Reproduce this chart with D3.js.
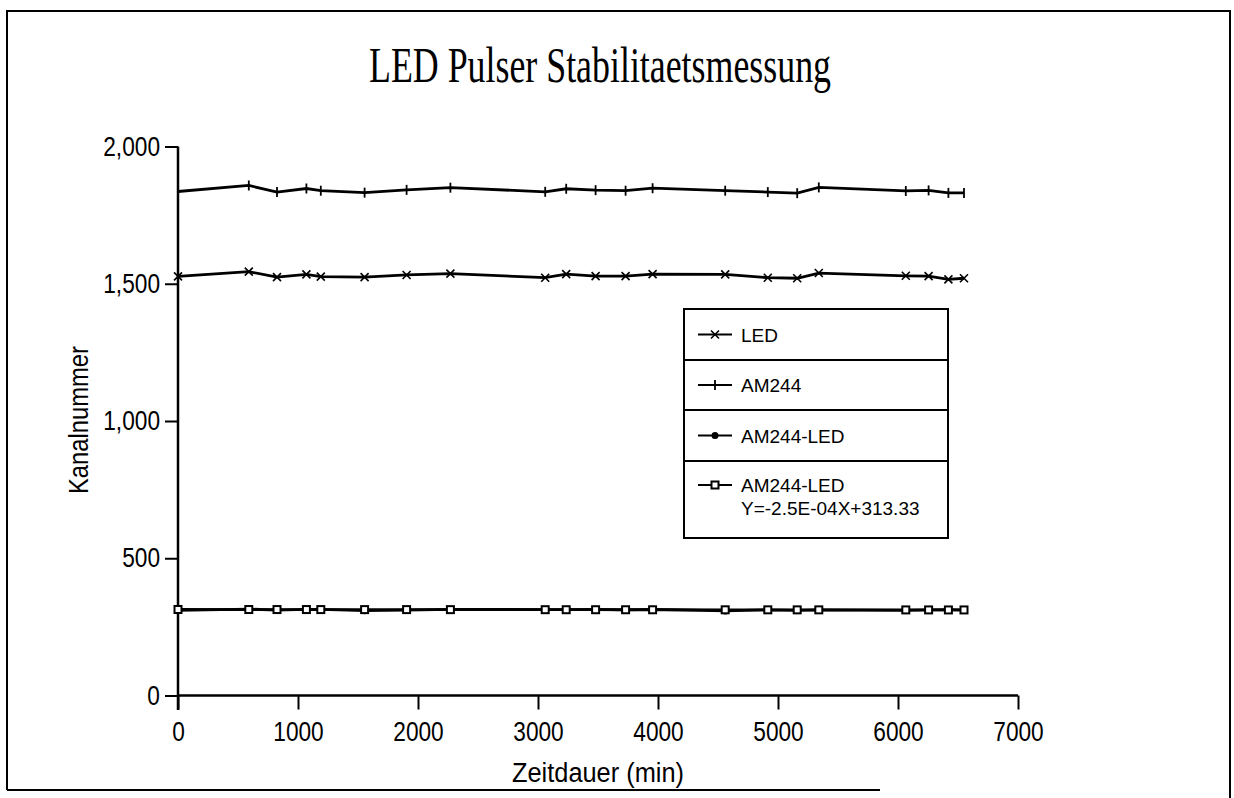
<!DOCTYPE html>
<html>
<head>
<meta charset="utf-8">
<script src="https://cdn.jsdelivr.net/npm/d3@7"></script>
<style>
  body { margin: 0; background: #fff; }
  svg { display: block; }
  .lab { font-family: "Liberation Sans", Arial, sans-serif; }
</style>
</head>
<body>
<script>
// measurement times (min)
var zeit = [0, 590, 825, 1070, 1190, 1555, 1905, 2270, 3060, 3235, 3480, 3730, 3955, 4560, 4915, 5160, 5340, 6065, 6255, 6420, 6550];
// channel numbers
var am244 = [1836, 1858, 1834, 1847, 1839, 1832, 1842, 1850, 1835, 1846, 1841, 1839, 1848, 1839, 1834, 1830, 1851, 1838, 1840, 1831, 1831];
var led = [1527, 1544, 1524, 1534, 1526, 1524, 1532, 1537, 1522, 1535, 1528, 1528, 1535, 1534, 1522, 1520, 1539, 1529, 1528, 1516, 1520];
var diff = [310, 315, 311, 314, 314, 309, 311, 314, 313, 313, 314, 312, 314, 308, 312, 310, 312, 310, 312, 313, 311];
var fit = [313.3, 313.2, 313.1, 313.1, 313.0, 312.9, 312.9, 312.8, 312.6, 312.5, 312.5, 312.4, 312.3, 312.2, 312.1, 312.0, 312.0, 311.8, 311.8, 311.7, 311.7];

var xTicks = [0, 1000, 2000, 3000, 4000, 5000, 6000, 7000];
var yTicks = [0, 500, 1000, 1500, 2000];
var legendNames = ["LED", "AM244", "AM244-LED", "AM244-LED"];
var fitLabel = "Y=-2.5E-04X+313.33";

var W = 1234, H = 798;
var svg = d3.select("body").append("svg").attr("width", W).attr("height", H);

// scanned page frame (bottom edge only partly visible)
svg.append("path")
    .attr("d", "M7,790 L7,11 L1230,11 L1230,798 M7,790 L880,790")
    .attr("fill", "none").attr("stroke", "#000").attr("stroke-width", 2);

var x = d3.scaleLinear().domain([0, 7000]).range([178, 1018]);
var y = d3.scaleLinear().domain([0, 2000]).range([695.5, 146.5]);

// title
svg.append("text")
    .attr("x", 600).attr("y", 82)
    .attr("text-anchor", "middle")
    .attr("textLength", 462).attr("lengthAdjust", "spacingAndGlyphs")
    .style("font-family", "Liberation Serif, serif")
    .style("font-size", "50px")
    .text("LED Pulser Stabilitaetsmessung");

// axes
var yAxis = svg.append("g")
    .attr("transform", "translate(178,0)")
    .call(d3.axisLeft(y).tickValues(yTicks).tickSize(13).tickPadding(5).tickFormat(d3.format(",")));
var xAxis = svg.append("g")
    .attr("transform", "translate(0,695.5)")
    .call(d3.axisBottom(x).tickValues(xTicks).tickSize(14).tickPadding(12).tickFormat(d3.format("d")));

[xAxis, yAxis].forEach(function (a) {
  a.select(".domain").remove();
  a.selectAll("line").attr("stroke", "#000").attr("stroke-width", 2);
  a.selectAll("text").attr("class", "lab").style("font-size", "27px").attr("fill", "#000");
});
xAxis.selectAll("text").attr("dy", "0.71em");

// axis lines
svg.append("line").attr("x1", 178).attr("x2", 178).attr("y1", y(2000)).attr("y2", 710)
    .attr("stroke", "#000").attr("stroke-width", 2.5);
svg.append("line").attr("x1", 178).attr("x2", x(7000)).attr("y1", y(0)).attr("y2", y(0))
    .attr("stroke", "#000").attr("stroke-width", 2.5);

// squeeze the plain sans into the narrow plotter lettering
svg.selectAll(".lab").each(function () {
  var w = this.getComputedTextLength();
  d3.select(this).attr("textLength", w * 0.84).attr("lengthAdjust", "spacingAndGlyphs");
});

svg.append("text").attr("class", "lab")
    .attr("transform", "translate(88,420) rotate(-90)")
    .attr("text-anchor", "middle")
    .attr("textLength", 148).attr("lengthAdjust", "spacingAndGlyphs")
    .style("font-size", "27px")
    .text("Kanalnummer");
svg.append("text").attr("class", "lab")
    .attr("x", 598).attr("y", 782)
    .attr("text-anchor", "middle")
    .attr("textLength", 172).attr("lengthAdjust", "spacingAndGlyphs")
    .style("font-size", "27px")
    .text("Zeitdauer (min)");

// markers
function marker(sel, kind) {
  if (kind == "x") {
    sel.append("path").attr("d", "M-4,-4L4,4M-4,4L4,-4").attr("stroke", "#000").attr("stroke-width", 1.6);
  } else if (kind == "plus") {
    sel.append("path").attr("d", "M0,-5L0,5").attr("stroke", "#000").attr("stroke-width", 1.8);
  } else if (kind == "dot") {
    sel.append("circle").attr("r", 3.5).attr("fill", "#000");
  } else {
    sel.append("rect").attr("x", -3.5).attr("y", -3.5).attr("width", 7).attr("height", 7)
        .attr("fill", "#fff").attr("stroke", "#000").attr("stroke-width", 2);
  }
}

var series = [
  { vals: led, kind: "x" },
  { vals: am244, kind: "plus" },
  { vals: diff, kind: "dot" },
  { vals: fit, kind: "square" }
];

var line = d3.line()
    .x(function (d) { return x(d[0]); })
    .y(function (d) { return y(d[1]); });

series.forEach(function (s) {
  var pts = zeit.map(function (t, i) { return [t, s.vals[i]]; });
  svg.append("path").datum(pts)
      .attr("d", line)
      .attr("fill", "none").attr("stroke", "#000").attr("stroke-width", 2.8);
  svg.selectAll(null).data(pts).enter().append("g")
      .attr("transform", function (d) { return "translate(" + x(d[0]) + "," + y(d[1]) + ")"; })
      .each(function () { marker(d3.select(this), s.kind); });
});

// legend box
var lg = svg.append("g");
var rowY = [309, 360, 410, 461, 538];
lg.append("rect").attr("x", 684).attr("y", 309).attr("width", 264).attr("height", 229)
    .attr("fill", "#fff").attr("stroke", "#000").attr("stroke-width", 2);
rowY.slice(1, 4).forEach(function (ry) {
  lg.append("line").attr("x1", 684).attr("x2", 948).attr("y1", ry).attr("y2", ry)
      .attr("stroke", "#000").attr("stroke-width", 2);
});
series.forEach(function (s, i) {
  var cy = i < 3 ? (rowY[i] + rowY[i + 1]) / 2 : 485;
  lg.append("line").attr("x1", 698).attr("x2", 732).attr("y1", cy).attr("y2", cy)
      .attr("stroke", "#000").attr("stroke-width", 2);
  marker(lg.append("g").attr("transform", "translate(715," + cy + ")"), s.kind);
  lg.append("text")
      .attr("x", 741).attr("y", cy + 7)
      .style("font-family", "Liberation Sans, Arial, sans-serif")
      .style("font-size", "19px")
      .text(legendNames[i]);
});
lg.append("text")
    .attr("x", 741).attr("y", 515)
    .style("font-family", "Liberation Sans, Arial, sans-serif")
    .style("font-size", "19px")
    .text(fitLabel);
</script>
</body>
</html>
